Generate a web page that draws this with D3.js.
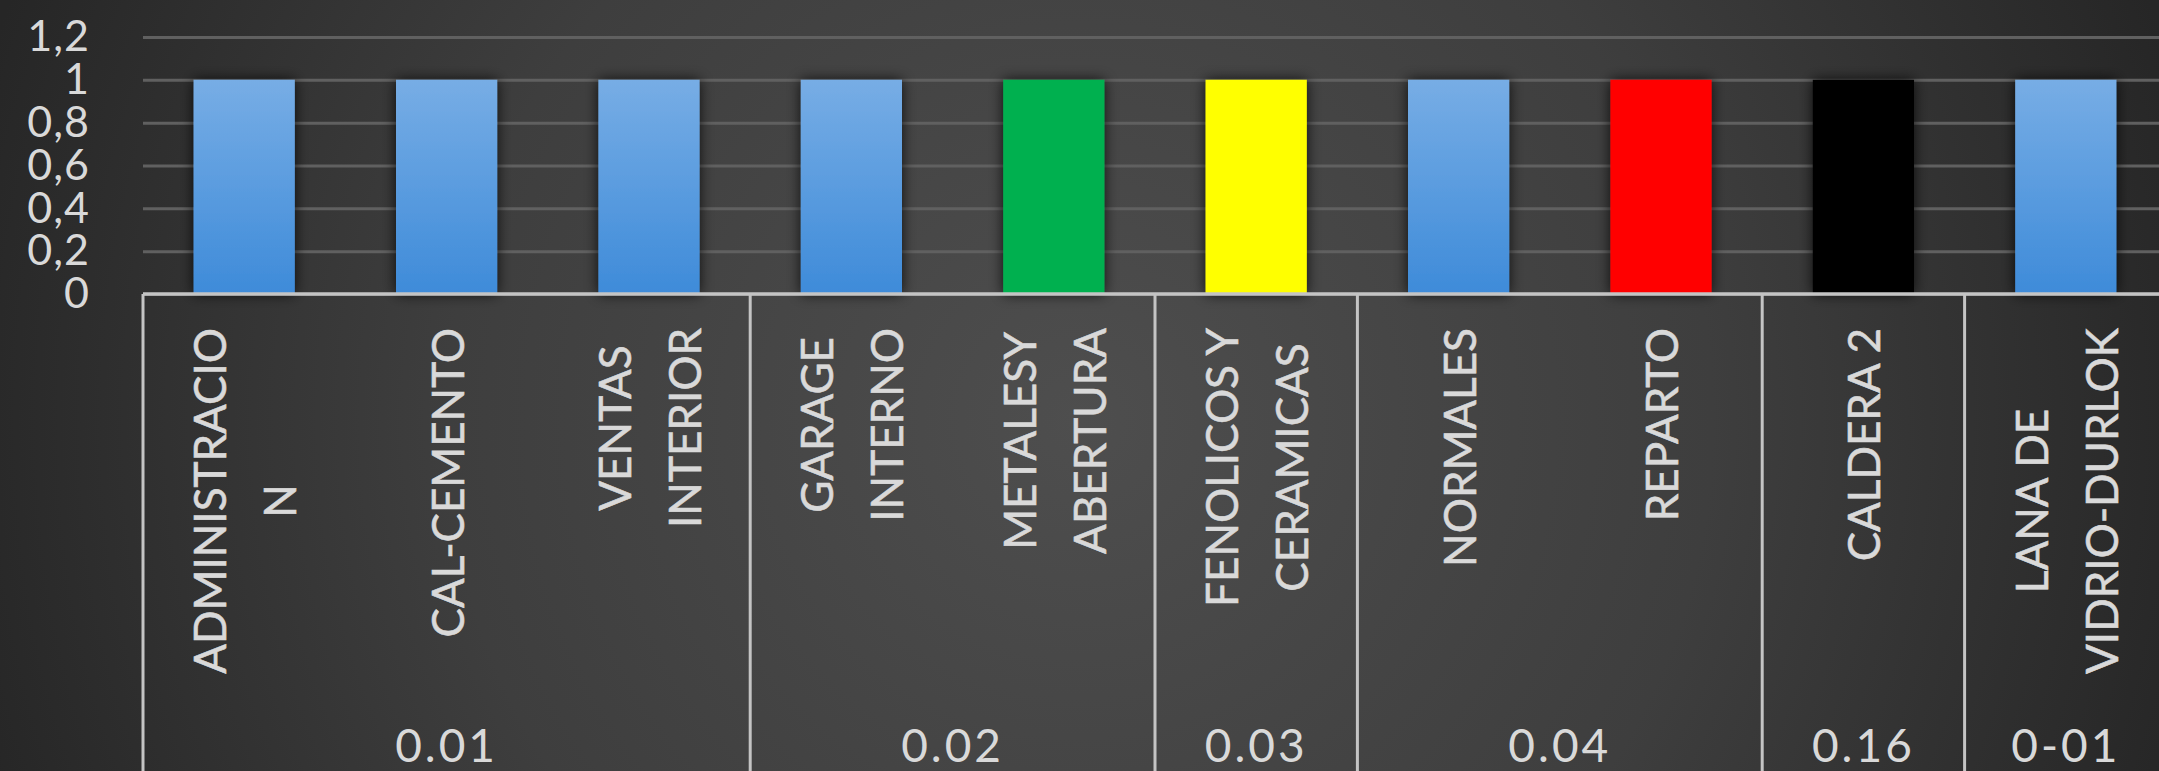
<!DOCTYPE html>
<html>
<head>
<meta charset="utf-8">
<script src="https://cdn.jsdelivr.net/npm/d3@7"></script>
<style>
  html, body { margin: 0; padding: 0; background: #333; overflow: hidden; }
  text { font-family: Lato, "Open Sans", sans-serif; fill: #d9d9d9; }
</style>
</head>
<body>
<svg id="chart" width="2159" height="771"></svg>
<script>
// data
const categories = ["ADMINISTRACION", "CAL-CEMENTO", "VENTAS INTERIOR", "GARAGE INTERNO", "METALESY ABERTURA",
                    "FENOLICOS Y CERAMICAS", "NORMALES", "REPARTO", "CALDERA 2", "LANA DE VIDRIO-DURLOK"]
const labelLines = [["ADMINISTRACIO", "N"], ["CAL-CEMENTO"], ["VENTAS", "INTERIOR"], ["GARAGE", "INTERNO"],
                    ["METALESY", "ABERTURA"], ["FENOLICOS Y", "CERAMICAS"], ["NORMALES"], ["REPARTO"],
                    ["CALDERA 2"], ["LANA DE", "VIDRIO-DURLOK"]]
const groupOf = ["0.01", "0.01", "0.01", "0.02", "0.02", "0.03", "0.04", "0.04", "0.16", "0-01"]
const values = [1, 1, 1, 1, 1, 1, 1, 1, 1, 1]
const barColors = ["blue", "blue", "blue", "blue", "#00b050", "#ffff00", "blue", "#ff0000", "#000000", "blue"]
const yTicks = [0, 0.2, 0.4, 0.6, 0.8, 1, 1.2]

const W = 2159, H = 771
const plotLeft = 143, plotRight = 2167, base = 294, plotTop = 37

let svg = d3.select("#chart")
let defs = svg.append("defs")

let bg = defs.append("radialGradient").attr("id", "bg")
    .attr("gradientUnits", "userSpaceOnUse")
    .attr("cx", 1080).attr("cy", 420).attr("r", 1150)
bg.append("stop").attr("offset", "0%").attr("stop-color", "#4e4e4e")
bg.append("stop").attr("offset", "55%").attr("stop-color", "#3e3e3e")
bg.append("stop").attr("offset", "100%").attr("stop-color", "#262626")

let blue = defs.append("linearGradient").attr("id", "blue")
    .attr("x1", 0).attr("y1", 0).attr("x2", 0).attr("y2", 1)
blue.append("stop").attr("offset", "0%").attr("stop-color", "#77ade5")
blue.append("stop").attr("offset", "100%").attr("stop-color", "#3e8bd9")

let shadow = defs.append("filter").attr("id", "shadow")
    .attr("x", "-30%").attr("y", "-10%").attr("width", "160%").attr("height", "120%")
shadow.append("feDropShadow").attr("dx", 0).attr("dy", 0).attr("stdDeviation", 7)
    .attr("flood-color", "#000").attr("flood-opacity", 0.8)

svg.append("rect").attr("width", W).attr("height", H).attr("fill", "url(#bg)")

let x = d3.scaleBand().domain(categories).range([plotLeft, plotRight])
    .paddingInner(0.5).paddingOuter(0.25)
let y = d3.scaleLinear().domain([0, 1.2]).range([base, plotTop])

// gridlines
svg.append("g").attr("transform", `translate(${plotLeft},0)`)
   .call(d3.axisLeft(y).tickValues(yTicks).tickSize(-(plotRight - plotLeft)).tickFormat(""))
   .call(g => g.select(".domain").remove())
   .call(g => g.selectAll("line").attr("stroke", "#606060").attr("stroke-width", 3))

// y tick labels (stacked tightly, as in the original)
let fmt = d => d3.format("")(d).replace(".", ",")
svg.append("g").attr("transform", `translate(${plotLeft},0)`)
   .call(d3.axisLeft(y).tickValues(yTicks).tickSize(0).tickPadding(53).tickFormat(fmt))
   .call(g => g.select(".domain").remove())
   .call(g => g.selectAll("text").attr("font-size", 43).attr("fill", "#d9d9d9")
                .attr("font-family", "Lato, sans-serif").attr("letter-spacing", 1))

// bars
svg.append("g").selectAll("rect")
   .data(categories)
   .join("rect")
   .attr("x", d => x(d))
   .attr("width", x.bandwidth())
   .attr("y", (d, i) => y(values[i]))
   .attr("height", (d, i) => y(0) - y(values[i]))
   .attr("fill", (d, i) => barColors[i] == "blue" ? "url(#blue)" : barColors[i])
   .attr("filter", "url(#shadow)")

// category axis frame
let axisCol = "#c4c4c4"
svg.append("line").attr("x1", plotLeft).attr("x2", W).attr("y1", base).attr("y2", base)
   .attr("stroke", axisCol).attr("stroke-width", 3.5)

let groups = d3.groups(categories.map((c, i) => ({c, g: groupOf[i]})), d => d.g)
let seps = [plotLeft]
groups.forEach(([g, items]) => {
    let last = items[items.length - 1].c
    seps.push(x(last) + x.bandwidth() + x.step() * x.paddingInner() / 2)
})
svg.append("g").selectAll("line")
   .data(seps.filter(s => s < W))
   .join("line")
   .attr("x1", d => d).attr("x2", d => d)
   .attr("y1", base).attr("y2", H)
   .attr("stroke", axisCol).attr("stroke-width", 3)

// group labels
svg.append("g").selectAll("text")
   .data(groups)
   .join("text")
   .attr("x", ([g, items]) => (x(items[0].c) + x(items[items.length - 1].c) + x.bandwidth()) / 2)
   .attr("y", 744)
   .attr("text-anchor", "middle")
   .attr("dominant-baseline", "central")
   .attr("font-size", 46)
   .attr("letter-spacing", 3)
   .text(([g]) => g)

// rotated category labels, lines centred on each other, top aligned under the axis
let lineGap = 70, labelTop = 328
let labels = svg.append("g")
categories.forEach((c, i) => {
    let lines = labelLines[i]
    let cx = x(c) + x.bandwidth() / 2
    let texts = lines.map((t, j) => labels.append("text")
        .attr("text-anchor", "middle")
        .attr("dominant-baseline", "central")
        .attr("font-size", 44)
        .attr("stroke", "#d9d9d9").attr("stroke-width", 0.6)
        .text(t))
    let maxLen = d3.max(texts, t => t.node().getComputedTextLength())
    let cy = labelTop + maxLen / 2
    texts.forEach((t, j) => {
        let lx = cx + (j - (lines.length - 1) / 2) * lineGap
        t.attr("transform", `translate(${lx},${cy}) rotate(-90)`)
    })
})
</script>
</body>
</html>
